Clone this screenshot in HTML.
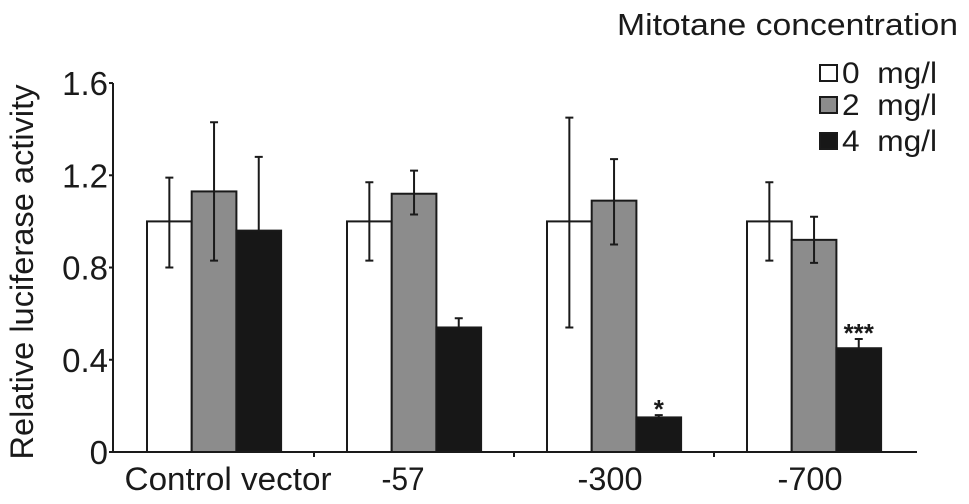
<!DOCTYPE html>
<html><head><meta charset="utf-8"><style>
html,body{margin:0;padding:0;background:#fff;}
svg{display:block;font-family:"Liberation Sans",Arial,sans-serif;}
</style></head><body>
<svg id="chart" width="969" height="504" viewBox="0 0 969 504" xmlns="http://www.w3.org/2000/svg">
<text x="617" y="35" font-size="31" textLength="341" lengthAdjust="spacingAndGlyphs" fill="#1a1a1a">Mitotane concentration</text>
<g id="legend"></g>
<text transform="translate(33,272) rotate(-90)" font-size="32" text-anchor="middle" textLength="375" lengthAdjust="spacingAndGlyphs" fill="#1a1a1a">Relative luciferase activity</text>
<g id="plot"></g>
</svg>
<script>
const categories = ["Control vector", "-57", "-300", "-700"];
const values0 = [1.0, 1.0, 1.0, 1.0];
const values2 = [1.13, 1.12, 1.09, 0.92];
const values4 = [0.96, 0.54, 0.15, 0.45];
const errTop0 = [1.19, 1.17, 1.45, 1.17];
const errBot0 = [0.80, 0.83, 0.54, 0.83];
const errTop2 = [1.43, 1.22, 1.27, 1.02];
const errBot2 = [0.83, 1.03, 0.90, 0.82];
const errTop4 = [1.28, 0.58, 0.16, 0.49];
const significance = ["", "", "*", "***"];
const seriesNames = ["0  mg/l", "2  mg/l", "4  mg/l"];
const yTicks = [0, 0.4, 0.8, 1.2, 1.6];
const yTickLabels = ["0", "0.4", "0.8", "1.2", "1.6"];

// layout (style) settings
const labelWidths = [207, 43, 65, 65];
const labelShift = [14, -11, -4, -4];
const NS = "http://www.w3.org/2000/svg";
const fills = ["#ffffff", "#8c8c8c", "#171717"];
const y0 = 452, scale = 230.6, xAxisLeft = 113, xAxisRight = 917;
const groupStart = 147, groupStep = 200, barW = 44.7;
function yScale(v){ return y0 - v*scale; }
function xBar(g, s){ return groupStart + g*groupStep + s*barW; }
function mk(tag, attrs, parent){ const e=document.createElementNS(NS,tag); for(const k in attrs) e.setAttribute(k,attrs[k]); parent.appendChild(e); return e; }
const plot = document.getElementById('plot');
const legend = document.getElementById('legend');
const series = [values0, values2, values4];
const tops = [errTop0, errTop2, errTop4];
const bots = [errBot0, errBot2, null];

for (let g=0; g<categories.length; g++){
  for (let s=0; s<3; s++){
    const v = series[s][g];
    const r = mk('rect',{x:xBar(g,s), y:yScale(v), width:barW, height:y0-yScale(v), fill:fills[s], stroke:'#1a1a1a','stroke-width':2}, plot);
    
    
    const cx = xBar(g,s)+barW/2;
    const t = yScale(tops[s][g]);
    const b = bots[s] ? yScale(bots[s][g]) : yScale(v);
    const eb = mk('path',{d:`M${cx},${b}L${cx},${t}M${cx-4},${t}L${cx+4},${t}`+(bots[s]?`M${cx-4},${b}L${cx+4},${b}`:''), stroke:'#1a1a1a','stroke-width':2,fill:'none'}, plot);
    
    
  }
  if (significance[g]){
    const st = mk('text',{x:xBar(g,2)+barW/2, y:yScale(tops[2][g])+3, 'font-size':26,'font-weight':'bold','text-anchor':'middle', fill:'#1a1a1a'}, plot);
    st.textContent = significance[g];
    
    
  }
  const lab = mk('text',{x:groupStart + g*groupStep + 1.5*barW + labelShift[g], y:490, 'font-size':32, 'text-anchor':'middle', textLength:labelWidths[g], lengthAdjust:'spacingAndGlyphs', fill:'#1a1a1a'}, plot);
  lab.textContent = categories[g];
  
  
  if (g>0){
    const tk = mk('line',{x1:groupStart+g*groupStep-33, x2:groupStart+g*groupStep-33, y1:y0, y2:y0+5, stroke:'#1a1a1a','stroke-width':2}, plot);
    
    
  }
}
const ya = mk('line',{x1:xAxisLeft,x2:xAxisLeft,y1:yScale(1.6),y2:y0,stroke:'#1a1a1a','stroke-width':2}, plot);


const xa = mk('line',{x1:xAxisLeft-4,x2:xAxisRight,y1:y0,y2:y0,stroke:'#1a1a1a','stroke-width':2}, plot);


for (let i=0;i<yTicks.length;i++){
  const yy = yScale(yTicks[i]);
  const tk = mk('line',{x1:xAxisLeft-4,x2:xAxisLeft,y1:yy,y2:yy,stroke:'#1a1a1a','stroke-width':2}, plot);
  
  
  const tl = mk('text',{x:108,y:yy+12,'font-size':33,'text-anchor':'end',fill:'#1a1a1a'}, plot);
  tl.textContent = yTickLabels[i];
  
  
}
const legY = [65, 97, 133];
for (let s=0;s<3;s++){
  const r = mk('rect',{x:820,y:legY[s],width:17,height:16,fill:fills[s],stroke:'#1a1a1a','stroke-width':2}, legend);
  
  
  const t = mk('text',{x:842,y:legY[s]+18,'font-size':30,fill:'#1a1a1a',textLength:95,lengthAdjust:'spacingAndGlyphs'}, legend);
  t.setAttribute('style','white-space:pre');
  t.textContent = seriesNames[s];
  
  
}
</script>
</body></html>
